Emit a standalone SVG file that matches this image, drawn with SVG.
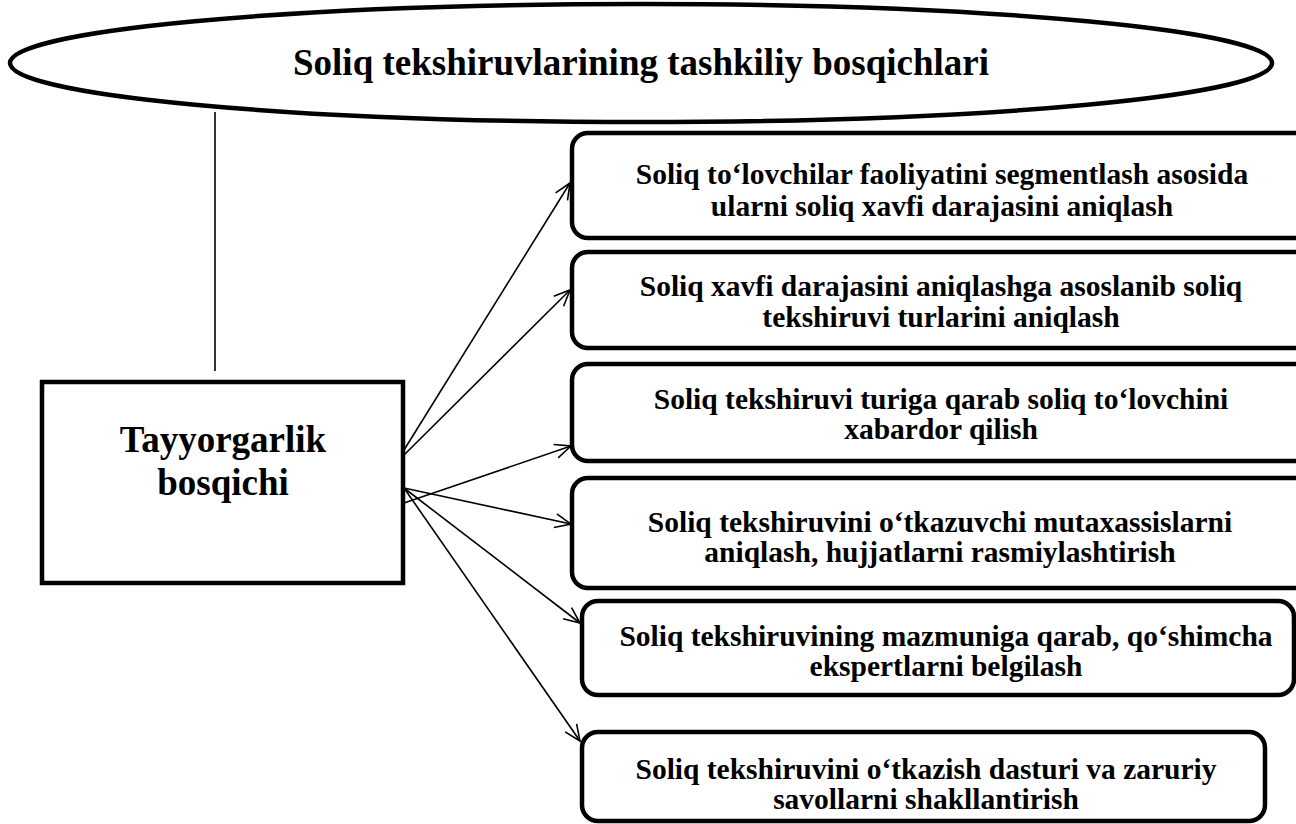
<svg xmlns="http://www.w3.org/2000/svg" width="1296" height="824" viewBox="0 0 1296 824">
<style>
.t{font-family:"Liberation Serif","Times New Roman",serif;font-weight:bold;fill:#000;text-anchor:middle}
.big{font-size:37px}
.sm{font-size:29.5px}
.box{fill:#fff;stroke:#000;stroke-width:4.5}
.con{stroke:#000;stroke-width:1.6;fill:none}
.arr{marker-end:url(#ah)}
</style>
<defs>
<marker id="ah" markerUnits="userSpaceOnUse" markerWidth="20" markerHeight="20" refX="17" refY="8" orient="auto">
<path d="M1,1 L17,8 L1,15" fill="none" stroke="#000" stroke-width="1.6"/>
</marker>
</defs>
<rect width="1296" height="824" fill="#fff"/>
<g id="title">
<ellipse cx="641" cy="63" rx="631" ry="59" fill="#fff" stroke="#000" stroke-width="4.5"/>
<text class="t big" x="641" y="75">Soliq tekshiruvlarining tashkiliy bosqichlari</text>
</g>
<g id="connectors">
<line class="con" x1="215" y1="112" x2="215" y2="371"/>
<line class="con arr" x1="404" y1="450" x2="570" y2="183"/>
<line class="con arr" x1="404" y1="455" x2="570" y2="290"/>
<line class="con arr" x1="404" y1="503" x2="571" y2="446"/>
<line class="con arr" x1="404" y1="488" x2="571" y2="524"/>
<line class="con arr" x1="404" y1="488" x2="580" y2="623"/>
<line class="con arr" x1="404" y1="488" x2="580" y2="741"/>
</g>
<g id="stage">
<rect class="box" x="42" y="382" width="361" height="201"/>
<text class="t big" x="223" y="452">Tayyorgarlik</text>
<text class="t big" x="223" y="495">bosqichi</text>
</g>
<g id="step1">
<rect class="box" x="572" y="133" width="740" height="105" rx="16"/>
<text class="t sm" x="942" y="184">Soliq to‘lovchilar faoliyatini segmentlash asosida</text>
<text class="t sm" x="942" y="216">ularni soliq xavfi darajasini aniqlash</text>
</g>
<g id="step2">
<rect class="box" x="572" y="252" width="740" height="96" rx="16"/>
<text class="t sm" x="941" y="296">Soliq xavfi darajasini aniqlashga asoslanib soliq</text>
<text class="t sm" x="941" y="327">tekshiruvi turlarini aniqlash</text>
</g>
<g id="step3">
<rect class="box" x="572" y="364" width="740" height="97" rx="16"/>
<text class="t sm" x="941" y="409">Soliq tekshiruvi turiga qarab soliq to‘lovchini</text>
<text class="t sm" x="941" y="439">xabardor qilish</text>
</g>
<g id="step4">
<rect class="box" x="572" y="478" width="740" height="110" rx="16"/>
<text class="t sm" x="940" y="532">Soliq tekshiruvini o‘tkazuvchi mutaxassislarni</text>
<text class="t sm" x="940" y="562">aniqlash, hujjatlarni rasmiylashtirish</text>
</g>
<g id="step5">
<rect class="box" x="582" y="601" width="712" height="94" rx="16"/>
<text class="t sm" x="946" y="646">Soliq tekshiruvining mazmuniga qarab, qo‘shimcha</text>
<text class="t sm" x="946" y="676">ekspertlarni belgilash</text>
</g>
<g id="step6">
<rect class="box" x="582" y="732" width="683" height="89" rx="16"/>
<text class="t sm" x="926" y="779">Soliq tekshiruvini o‘tkazish dasturi va zaruriy</text>
<text class="t sm" x="926" y="809">savollarni shakllantirish</text>
</g>
</svg>
